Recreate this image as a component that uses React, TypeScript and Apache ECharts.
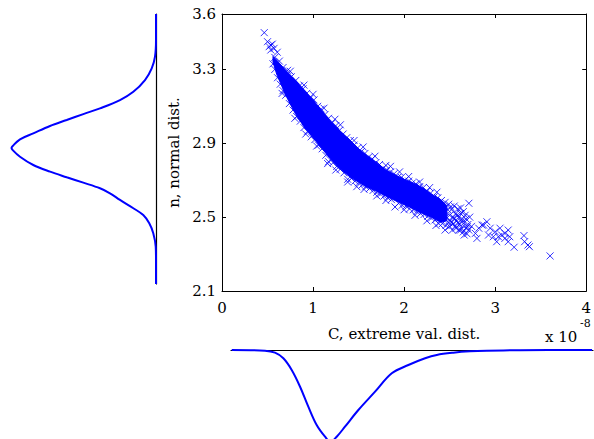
import React, { useEffect, useRef } from "react";
import * as echarts from "echarts";

// ---- Main scatter: axis ticks ----
const xTicks = [0, 1, 2, 3, 4];
const yTickValues = [2.1, 2.5, 2.9, 3.3, 3.6];

// ---- Dense core of the cloud (C in 1e-8 units, n upper/lower extent) ----
const bandC = [0.56, 0.6, 0.7, 0.8, 0.9, 1.0, 1.1, 1.2, 1.3, 1.4, 1.5, 1.6, 1.7, 1.8, 1.9, 2.0, 2.1, 2.2, 2.3, 2.4, 2.47];
const bandUpper = [3.37, 3.35, 3.295, 3.245, 3.19, 3.135, 3.075, 3.015, 2.965, 2.92, 2.87, 2.83, 2.795, 2.755, 2.73, 2.705, 2.685, 2.66, 2.625, 2.595, 2.56];
const bandLower = [3.34, 3.275, 3.16, 3.065, 2.99, 2.93, 2.87, 2.81, 2.76, 2.72, 2.69, 2.66, 2.64, 2.615, 2.59, 2.568, 2.545, 2.52, 2.5, 2.472, 2.48];

// ---- Individual samples visible along the edges of the cloud ----
const upperEdgeC = [0.58, 0.63, 0.67, 0.72, 0.76, 0.81, 0.85, 0.89, 0.93, 0.97, 1.01, 1.05, 1.09, 1.13, 1.17, 1.21, 1.25, 1.29, 1.33, 1.37, 1.41, 1.45, 1.49, 1.53, 1.57, 1.61, 1.65, 1.69, 1.73, 1.77, 1.81, 1.85, 1.89, 1.93, 1.97, 2.01, 2.05, 2.09, 2.13, 2.17, 2.21, 2.25, 2.29, 2.33, 2.37, 2.41, 2.45, 2.49];
const upperEdgeN = [3.365, 3.345, 3.31, 3.295, 3.26, 3.24, 3.21, 3.195, 3.17, 3.145, 3.135, 3.1, 3.085, 3.055, 3.035, 3.01, 2.995, 2.97, 2.95, 2.93, 2.915, 2.89, 2.875, 2.855, 2.845, 2.825, 2.815, 2.795, 2.785, 2.765, 2.755, 2.745, 2.735, 2.715, 2.715, 2.7, 2.695, 2.685, 2.68, 2.665, 2.66, 2.64, 2.63, 2.61, 2.605, 2.59, 2.58, 2.57];
const upperOutC = [0.75, 0.9, 1.0, 1.12, 1.24, 1.3, 1.45, 1.55, 1.68, 1.8, 1.85, 1.95, 2.05, 2.17, 2.28, 2.36];
const upperOutN = [3.29, 3.215, 3.165, 3.09, 3.03, 3.0, 2.915, 2.88, 2.83, 2.78, 2.775, 2.745, 2.72, 2.69, 2.66, 2.635];
const lowerEdgeC = [0.56, 0.58, 0.61, 0.64, 0.67, 0.7, 0.74, 0.78, 0.82, 0.86, 0.9, 0.94, 0.98, 1.02, 1.06, 1.1, 1.14, 1.17, 1.22, 1.26, 1.3, 1.34, 1.38, 1.42, 1.46, 1.5, 1.54, 1.58, 1.62, 1.66, 1.7, 1.74, 1.78, 1.82, 1.86, 1.9, 1.94, 1.98, 2.02, 2.06, 2.1, 2.14, 2.18, 2.22, 2.26, 2.3, 2.34, 2.38, 2.42, 2.46, 2.5];
const lowerEdgeN = [3.33, 3.3, 3.255, 3.22, 3.185, 3.16, 3.115, 3.08, 3.045, 3.02, 2.985, 2.965, 2.935, 2.92, 2.89, 2.87, 2.835, 2.8, 2.795, 2.775, 2.76, 2.74, 2.705, 2.71, 2.695, 2.685, 2.675, 2.665, 2.655, 2.645, 2.635, 2.625, 2.615, 2.605, 2.595, 2.555, 2.575, 2.565, 2.56, 2.545, 2.54, 2.53, 2.52, 2.515, 2.505, 2.495, 2.485, 2.465, 2.465, 2.455, 2.45];
const lowerOutC = [0.66, 0.8, 0.92, 1.04, 1.16, 1.25, 1.38, 1.48, 1.56, 1.7, 1.8, 2.0, 2.12, 2.25, 2.35, 2.45];
const lowerOutN = [3.17, 3.035, 2.95, 2.885, 2.79, 2.755, 2.69, 2.665, 2.65, 2.615, 2.59, 2.54, 2.51, 2.48, 2.455, 2.43];

// ---- Ragged end of the cloud ----
const endC = [2.44, 2.46, 2.48, 2.49, 2.5, 2.51, 2.52, 2.52, 2.53, 2.54, 2.55, 2.55, 2.56, 2.57, 2.57, 2.58, 2.59, 2.59, 2.6, 2.6, 2.61, 2.62, 2.62, 2.63, 2.64, 2.65, 2.65, 2.66, 2.67, 2.68, 2.68, 2.69, 2.7, 2.71, 2.72, 2.74, 2.5, 2.54, 2.58, 2.63];
const endN = [2.53, 2.5, 2.54, 2.47, 2.51, 2.555, 2.54, 2.47, 2.43, 2.5, 2.56, 2.49, 2.45, 2.52, 2.44, 2.48, 2.545, 2.47, 2.43, 2.5, 2.46, 2.52, 2.55, 2.44, 2.49, 2.42, 2.53, 2.47, 2.51, 2.44, 2.49, 2.41, 2.46, 2.43, 2.5, 2.45, 2.485, 2.465, 2.51, 2.475];

// ---- Isolated samples: top cluster and right-hand tail ----
const outlierC = [0.464, 0.5, 0.518, 0.536, 0.553, 0.572, 0.607, 0.536, 2.711, 2.62, 2.66, 2.694, 2.783, 2.8, 2.82, 2.855, 2.873, 2.909, 2.945, 2.927, 2.98, 3.0, 3.017, 3.035, 3.053, 3.071, 3.107, 3.107, 3.143, 3.143, 3.16, 3.208, 3.316, 3.323, 3.36, 3.376, 3.603];
const outlierN = [3.499, 3.45, 3.423, 3.432, 3.437, 3.414, 3.393, 3.405, 2.575, 2.43, 2.403, 2.448, 2.412, 2.385, 2.44, 2.457, 2.457, 2.475, 2.44, 2.403, 2.394, 2.421, 2.367, 2.394, 2.44, 2.403, 2.412, 2.385, 2.43, 2.367, 2.394, 2.337, 2.4, 2.367, 2.349, 2.34, 2.29];

// ---- Marginal density of n (left panel) ----
const nGrid = [3.6, 3.4556, 3.363, 3.298, 3.233, 3.168, 3.122, 3.076, 3.044, 3.011, 2.978, 2.937, 2.904, 2.867, 2.856, 2.844, 2.807, 2.761, 2.724, 2.693, 2.663, 2.632, 2.604, 2.567, 2.521, 2.483, 2.437, 2.382, 2.307, 2.233, 2.1];
const nDensity = [0, 0, 0.018, 0.077, 0.198, 0.408, 0.648, 1.008, 1.308, 1.607, 1.907, 2.208, 2.447, 2.578, 2.6, 2.578, 2.447, 2.208, 1.907, 1.607, 1.308, 1.008, 0.828, 0.648, 0.408, 0.229, 0.121, 0.049, 0.005, 0, 0];

// ---- Marginal density of C (bottom panel) ----
const cGrid = [0.108, 0.466, 0.574, 0.664, 0.754, 0.844, 0.933, 1.023, 1.113, 1.172, 1.239, 1.328, 1.472, 1.652, 1.832, 2.011, 2.191, 2.317, 2.495, 2.675, 2.855, 3.214, 3.99];
const cDensity = [0, 0.01, 0.039, 0.12, 0.289, 0.531, 0.82, 1.085, 1.254, 1.33, 1.254, 1.109, 0.868, 0.603, 0.337, 0.217, 0.12, 0.072, 0.039, 0.019, 0.01, 0.003, 0];

const BLUE = "#0000ff";
const SERIF = "DejaVu Serif";
const CROSS = "path://M0,0L10,10M10,0L0,10";

export default function App() {
  const ref = useRef<HTMLDivElement>(null);

  useEffect(() => {
    if (!ref.current) return;
    const chart = echarts.init(ref.current, undefined, { renderer: "svg" });

    const axisLineBlack = { show: true, onZero: false, lineStyle: { color: "#000", width: 1 } };
    const labelStyle = { color: "#000", fontFamily: SERIF, fontSize: 15 };
    const nameStyle = { color: "#000", fontFamily: SERIF, fontSize: 15 };
    const pairs = (cs: number[], ns: number[]) => cs.map((c, i) => [c, ns[i]]);

    const scatterPts = [
      ...pairs(upperEdgeC, upperEdgeN),
      ...pairs(upperOutC, upperOutN),
      ...pairs(lowerEdgeC, lowerEdgeN),
      ...pairs(lowerOutC, lowerOutN),
      ...pairs(endC, endN),
      ...pairs(outlierC, outlierN),
    ];

    const option: any = {
      animation: false,
      backgroundColor: "#fff",
      textStyle: { fontFamily: SERIF },
      grid: [
        { left: 222, top: 14, width: 371, height: 277 },
        { left: 11.5, top: 14, width: 144.5, height: 270 },
        { left: 231, top: 350, width: 362, height: 89 },
      ],
      xAxis: [
        {
          gridIndex: 0, type: "value", min: 0, max: 4, interval: 1, position: "bottom",
          axisLine: axisLineBlack,
          axisTick: { show: true, inside: true, length: 4, lineStyle: { color: "#000" } },
          axisLabel: { ...labelStyle, margin: 9, customValues: xTicks },
          splitLine: { show: false },
          name: "C, extreme val. dist.", nameLocation: "middle", nameGap: 35,
          nameTextStyle: nameStyle,
        },
        {
          gridIndex: 0, type: "value", min: 0, max: 4, interval: 1, position: "top",
          axisLine: axisLineBlack,
          axisTick: { show: true, inside: true, length: 4, lineStyle: { color: "#000" } },
          axisLabel: { show: false }, splitLine: { show: false },
        },
        {
          gridIndex: 1, type: "value", min: 0, max: 2.6, inverse: true, show: false,
        },
        {
          gridIndex: 2, type: "value", min: 0.1, max: 4.0, position: "top",
          axisLine: { show: true, onZero: false, lineStyle: { color: "#000", width: 1.2 } },
          axisTick: { show: false }, axisLabel: { show: false }, splitLine: { show: false },
        },
      ],
      yAxis: [
        {
          gridIndex: 0, type: "value", min: 2.1, max: 3.6, position: "left",
          axisLine: axisLineBlack,
          axisTick: { show: true, inside: true, length: 4, customValues: yTickValues, lineStyle: { color: "#000" } },
          axisLabel: { ...labelStyle, margin: 6, customValues: yTickValues, formatter: (v: number) => v.toFixed(1) },
          splitLine: { show: false },
          name: "n, normal dist.", nameLocation: "middle", nameGap: 37,
          nameTextStyle: nameStyle,
        },
        {
          gridIndex: 0, type: "value", min: 2.1, max: 3.6, position: "right",
          axisLine: axisLineBlack,
          axisTick: { show: true, inside: true, length: 4, customValues: yTickValues, lineStyle: { color: "#000" } },
          axisLabel: { show: false }, splitLine: { show: false },
        },
        {
          gridIndex: 1, type: "value", min: 2.1, max: 3.6, position: "right",
          axisLine: { show: true, onZero: false, lineStyle: { color: "#000", width: 1.2 } },
          axisTick: { show: false }, axisLabel: { show: false }, splitLine: { show: false },
        },
        {
          gridIndex: 2, type: "value", min: 0, max: 1.287, inverse: true, show: false,
        },
      ],
      series: [
        {
          type: "custom",
          xAxisIndex: 0, yAxisIndex: 0,
          data: bandC.map((c, i) => [c, bandUpper[i], bandLower[i]]),
          encode: { x: 0, y: [1, 2] },
          clip: true,
          renderItem: (params: any, api: any) => {
            if (params.dataIndex !== 0) return null;
            const pts: number[][] = [];
            for (let i = 0; i < bandC.length; i++) pts.push(api.coord([bandC[i], bandUpper[i]]));
            for (let i = bandC.length - 1; i >= 0; i--) pts.push(api.coord([bandC[i], bandLower[i]]));
            return {
              type: "polygon",
              shape: { points: pts, smooth: 0 },
              style: { fill: BLUE, stroke: BLUE, lineWidth: 1 },
            };
          },
        },
        {
          type: "scatter",
          xAxisIndex: 0, yAxisIndex: 0,
          data: scatterPts,
          symbol: CROSS,
          symbolSize: 7,
          itemStyle: { color: "none", borderColor: BLUE, borderWidth: 1 },
        },
        {
          type: "line",
          xAxisIndex: 2, yAxisIndex: 2,
          data: nGrid.map((n, i) => [nDensity[i], n]),
          showSymbol: false, smooth: 0.35,
          lineStyle: { color: BLUE, width: 2 },
        },
        {
          type: "line",
          xAxisIndex: 3, yAxisIndex: 3,
          data: cGrid.map((c, i) => [c, cDensity[i]]),
          showSymbol: false, smooth: 0.35,
          lineStyle: { color: BLUE, width: 2 },
          z: 1,
        },
      ],
      graphic: [
        {
          type: "text", left: 545, top: 329,
          style: { text: "x 10", fontFamily: SERIF, fontSize: 15, fill: "#000" },
        },
        {
          type: "text", left: 580, top: 318,
          style: { text: "-8", fontFamily: SERIF, fontSize: 11, fill: "#000" },
        },
      ],
    };

    chart.setOption(option);
    return () => chart.dispose();
  }, []);

  return (
    <div
      ref={ref}
      style={{ position: "fixed", left: 0, top: 0, width: 594, height: 439, background: "#fff" }}
    />
  );
}
